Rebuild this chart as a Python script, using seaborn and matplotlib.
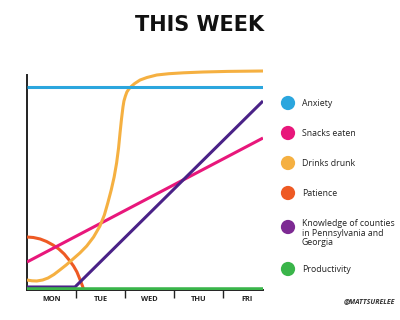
import matplotlib
matplotlib.use("Agg")
import matplotlib.pyplot as plt
import seaborn as sns
import pandas as pd

sns.set_theme(style="white")
plt.rcParams['font.family'] = ['Open Sans', 'DejaVu Sans']

# ---- data (x in days from Monday start, y in arbitrary units) ----
days = ["MON", "TUE", "WED", "THU", "FRI"]
x_end = 4.82

anxiety_x = [0, x_end]
anxiety_y = [203, 203]

snacks_x = [0, x_end]
snacks_y = [28, 152]

drinks_x = [0, 0.1, 0.2, 0.32, 0.43, 0.55, 0.67, 0.8, 0.94, 1.08, 1.22,
            1.36, 1.49, 1.58, 1.65, 1.72, 1.78, 1.83, 1.87, 1.9, 1.93,
            1.96, 1.98, 2.01, 2.04, 2.08, 2.14, 2.2, 2.31, 2.45, 2.65,
            2.9, 3.2, 3.6, 4.1, x_end]
drinks_y = [10, 9.2, 9, 10, 12, 15.5, 20, 25, 31, 37, 44,
            53, 64, 75, 87, 100, 113, 127, 142, 157, 171,
            183, 189, 194, 198, 201, 204, 206.5, 210, 212.5, 215,
            216.3, 217.2, 218, 218.6, 219]

patience_x = [0, 0.13, 0.27, 0.4, 0.53, 0.65, 0.76, 0.86, 0.95, 1.02,
              1.07, 1.11, 1.14, 1.16]
patience_y = [53, 52.5, 51, 48.5, 45, 41, 36, 30, 24, 18, 12, 7, 3, 0]

knowledge_x = [0, 0.98, x_end]
knowledge_y = [3, 3, 189]

productivity_x = [0, x_end]
productivity_y = [0, 0]

labels = ["Anxiety", "Snacks eaten", "Drinks drunk", "Patience",
          "Knowledge of counties\nin Pennsylvania and\nGeorgia", "Productivity"]
line_colors = ["#2ba6de", "#e8177b", "#f5b041", "#ee5a24", "#4a2287", "#3ab54a"]
dot_colors = ["#2ba6de", "#e8177b", "#f5b041", "#ee5a24", "#7d2a93", "#3ab54a"]

series = [(anxiety_x, anxiety_y), (snacks_x, snacks_y), (drinks_x, drinks_y),
          (patience_x, patience_y), (knowledge_x, knowledge_y),
          (productivity_x, productivity_y)]

rows = []
for lab, (xs, ys) in zip(labels, series):
    for i, (xv, yv) in enumerate(zip(xs, ys)):
        rows.append({"series": lab, "x": xv, "y": yv, "order": i})
df = pd.DataFrame(rows)

fig = plt.figure(figsize=(4, 3.2), dpi=100)
ax = fig.add_axes([27 / 400, 1 - 290 / 320, 236 / 400, 225 / 320])

draw_order = [5, 3, 1, 2, 4, 0]
for idx in draw_order:
    lab = labels[idx]
    sub = df[df["series"] == lab]
    sns.lineplot(data=sub, x="x", y="y", sort=False, estimator=None,
                 color=line_colors[idx], lw=4 if idx == 5 else 2.2,
                 ax=ax, legend=False, solid_capstyle="butt",
                 solid_joinstyle="round", zorder=3 if idx != 5 else 4)

ax.set_xlim(0, x_end)
ax.set_ylim(0, 225)
ax.set_xlabel("")
ax.set_ylabel("")
ax.set_yticks([])
ax.spines['top'].set_visible(False)
ax.spines['right'].set_visible(False)
ax.spines['left'].set_bounds(0, 215)
for s in ['left', 'bottom']:
    ax.spines[s].set_color("#222222")
    ax.spines[s].set_linewidth(1.4)

ax.set_xticks([1, 2, 3, 4])
ax.set_xticklabels([])
ax.tick_params(axis='x', which='major', length=6, width=1.0, color="#222222",
               direction='out', bottom=True)
ax.set_xticks([0.5, 1.5, 2.5, 3.5, 4.5], minor=True)
ax.set_xticklabels(days, minor=True, fontsize=5.3, fontweight='bold', color="#222222")
ax.tick_params(axis='x', which='minor', length=0, pad=4)

fig.text(0.5, 1 - 25 / 320, "THIS WEEK", ha='center', va='center',
         fontsize=15, fontweight='bold', color="#111111", family='DejaVu Sans')

# legend
leg = fig.add_axes([0, 0, 1, 1])
leg.set_xlim(0, 400)
leg.set_ylim(320, 0)
leg.axis('off')
row_y = [103, 133, 163, 193, 227, 269]
text_y = [103, 133, 163, 193, 233, 269]
leg.scatter([288] * 6, row_y, s=105, c=dot_colors, linewidths=0)
for lab, ty in zip(labels, text_y):
    leg.text(302, ty, lab, ha='left', va='center', fontsize=6.3,
             color="#222222", linespacing=1.1)
leg.text(395, 302, "@MATTSURELEE", ha='right', va='center', fontsize=5,
         fontweight='bold', fontstyle='italic', color="#333333")

fig.savefig("out.png", dpi=100)
